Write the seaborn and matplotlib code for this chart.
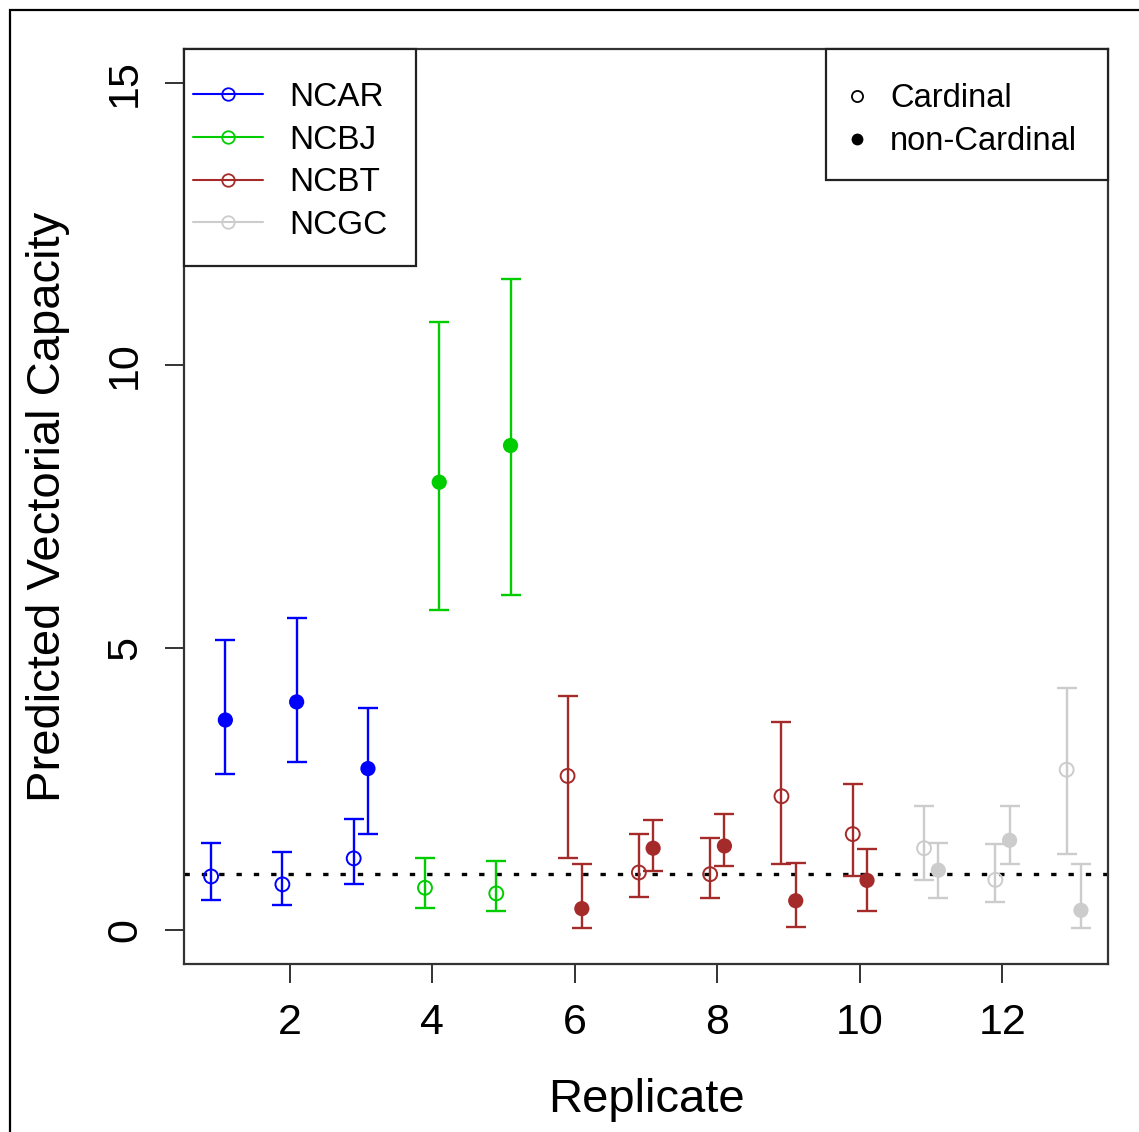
import numpy as np
import pandas as pd
import seaborn as sns
import matplotlib
matplotlib.use("Agg")
import matplotlib.pyplot as plt
from matplotlib.patches import Rectangle
from matplotlib.lines import Line2D

# ---------------- data ----------------
replicate = [1, 2, 3, 4, 5, 6, 7, 8, 9, 10, 11, 12, 13]
population = ["NCAR"] * 3 + ["NCBJ"] * 2 + ["NCBT"] * 5 + ["NCGC"] * 3
card_mean = [0.95, 0.81, 1.27, 0.75, 0.65, 2.73, 1.02, 0.99, 2.37, 1.70, 1.45, 0.89, 2.84]
card_lo = [0.53, 0.45, 0.81, 0.40, 0.33, 1.28, 0.59, 0.56, 1.17, 0.96, 0.89, 0.49, 1.34]
card_hi = [1.55, 1.38, 1.97, 1.28, 1.22, 4.15, 1.70, 1.63, 3.68, 2.59, 2.19, 1.53, 4.29]
nc_mean = [3.72, 4.04, 2.86, 7.93, 8.58, 0.38, 1.45, 1.49, 0.52, 0.88, 1.06, 1.59, 0.35]
nc_lo = [2.77, 2.97, 1.70, 5.66, 5.94, 0.03, 1.05, 1.14, 0.06, 0.34, 0.56, 1.17, 0.03]
nc_hi = [5.14, 5.52, 3.93, 10.77, 11.53, 1.17, 1.95, 2.05, 1.19, 1.44, 1.55, 2.19, 1.17]
pop_names = ["NCAR", "NCBJ", "NCBT", "NCGC"]
host_names = ["Cardinal", "non-Cardinal"]
reference_level = 1.0

pop_colors = {"NCAR": "#0000FF", "NCBJ": "#00CD00", "NCBT": "#A52A2A", "NCGC": "#CCCCCC"}
offset = 0.1

card = pd.DataFrame({"x": np.array(replicate) - offset, "mean": card_mean,
                     "lo": card_lo, "hi": card_hi, "population": population})
nonc = pd.DataFrame({"x": np.array(replicate) + offset, "mean": nc_mean,
                     "lo": nc_lo, "hi": nc_hi, "population": population})

# ---------------- figure ----------------
sns.set_theme(style="white")
plt.rcParams["font.family"] = ["Liberation Sans", "DejaVu Sans"]
plt.rcParams["text.color"] = "black"
plt.rcParams["axes.labelcolor"] = "black"
plt.rcParams["xtick.color"] = "black"
plt.rcParams["ytick.color"] = "black"

W, H = 1139, 1132
fig = plt.figure(figsize=(W / 100, H / 100), dpi=100)
L, R, T, B = 184, 1108, 49, 964
ax = fig.add_axes([L / W, 1 - B / H, (R - L) / W, (B - T) / H])

# outer frame
fig.patches.append(Rectangle((10 / W, -0.05), 1.2, 1 - 10 / H + 0.05,
                             transform=fig.transFigure, fill=False,
                             edgecolor="black", linewidth=1.6, zorder=10))

# reference line
ax.axhline(reference_level, color="black", linewidth=2.4,
           linestyle=(0, (1.6, 3.6)), zorder=1)

# error bars
for df in (card, nonc):
    for pop in pop_names:
        sub = df[df["population"] == pop]
        ax.errorbar(sub["x"], sub["mean"],
                    yerr=[sub["mean"] - sub["lo"], sub["hi"] - sub["mean"]],
                    fmt="none", ecolor=pop_colors[pop], elinewidth=1.7,
                    capsize=7, capthick=1.7, zorder=2)

# non-cardinal: filled circles
sns.scatterplot(data=nonc, x="x", y="mean", hue="population", palette=pop_colors,
                hue_order=pop_names, marker="o", s=120, linewidth=0,
                legend=False, ax=ax, zorder=3)
# cardinal: open circles
sns.scatterplot(data=card, x="x", y="mean", hue="population", palette=pop_colors,
                hue_order=pop_names, marker="o", s=100, linewidth=1.4,
                legend=False, ax=ax, zorder=3)
coll = ax.collections[-1]
coll.set_edgecolors(coll.get_facecolors())
coll.set_facecolors("none")

ax.set_xlim(0.52, 13.48)
ax.set_ylim(-0.6, 15.6)
ax.set_xticks([2, 4, 6, 8, 10, 12])
ax.set_yticks([0, 5, 10, 15])
ax.set_xlabel("Replicate", fontsize=34, labelpad=25)
ax.set_ylabel("Predicted Vectorial Capacity", fontsize=34, labelpad=25)
ax.tick_params(axis="both", which="both", direction="out", length=14, width=1.4,
               color="#333333", labelsize=31, bottom=True, left=True)
ax.tick_params(axis="x", pad=14)
ax.tick_params(axis="y", pad=14)
for lab in ax.get_yticklabels():
    lab.set_rotation(90)
    lab.set_va("center")
for s in ax.spines.values():
    s.set_color("#333333")
    s.set_linewidth(1.6)

def px2ax(px, py):
    return ((px - L) / (R - L), (B - py) / (B - T))

# legend 1: populations
x0, y0 = px2ax(184, 49)
x1, y1 = px2ax(416, 266)
ax.add_patch(Rectangle((x0, y1), x1 - x0, y0 - y1, transform=ax.transAxes,
                       fill=True, facecolor="white", edgecolor="#222222",
                       linewidth=1.6, zorder=5, clip_on=False))
h1 = [Line2D([], [], color=pop_colors[p], linewidth=1.5, marker="o",
             markerfacecolor="none", markeredgecolor=pop_colors[p],
             markersize=9, markeredgewidth=1.3) for p in pop_names]
leg1 = ax.legend(h1, pop_names, loc="upper left", bbox_to_anchor=px2ax(193, 82),
                 frameon=False, borderpad=0, borderaxespad=0, fontsize=24,
                 handlelength=2.1, handletextpad=0.8, labelspacing=0.35)
leg1.set_zorder(6)
ax.add_artist(leg1)

# legend 2: host type
x0, y0 = px2ax(826, 49)
x1, y1 = px2ax(1108, 180)
ax.add_patch(Rectangle((x0, y1), x1 - x0, y0 - y1, transform=ax.transAxes,
                       fill=True, facecolor="white", edgecolor="#222222",
                       linewidth=1.6, zorder=5, clip_on=False))
h2 = [Line2D([], [], linestyle="none", marker="o", markerfacecolor="none",
             markeredgecolor="black", markersize=8, markeredgewidth=1.3),
      Line2D([], [], linestyle="none", marker="o", markerfacecolor="black",
             markeredgecolor="black", markersize=8.5, markeredgewidth=0)]
leg2 = ax.legend(h2, host_names, loc="upper left", bbox_to_anchor=px2ax(841, 83),
                 frameon=False, borderpad=0, borderaxespad=0, fontsize=23.5,
                 handlelength=1.0, handletextpad=0.5, labelspacing=0.37)
leg2.set_zorder(6)

fig.savefig("out.png", dpi=100)
